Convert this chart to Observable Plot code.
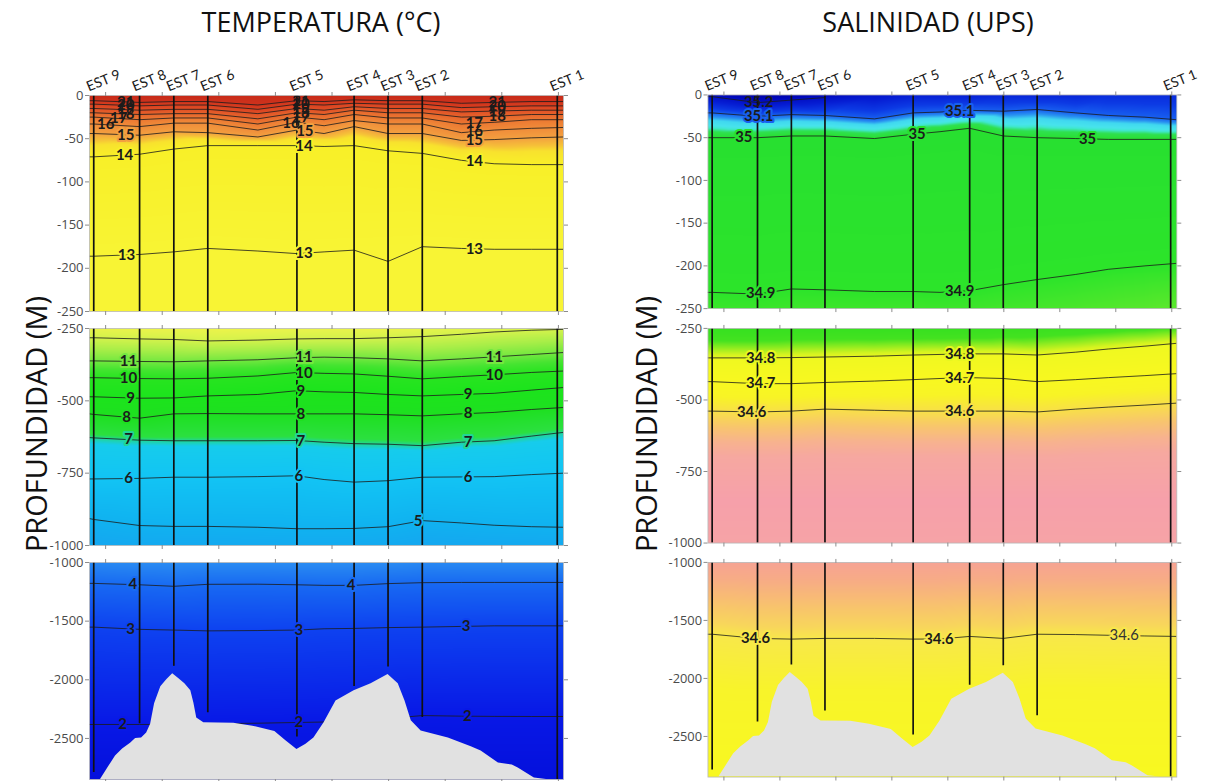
<!DOCTYPE html>
<html>
<head>
<meta charset="utf-8">
<script src="https://cdn.jsdelivr.net/npm/d3@7"></script>
<script src="https://cdn.jsdelivr.net/npm/@observablehq/plot@0.6"></script>
<style>
  html, body { margin: 0; padding: 0; background: #fff; overflow: hidden; }
  #fig { position: relative; width: 1206px; height: 781px; overflow: hidden; font-family: "Open Sans", sans-serif; }
  .panel { position: absolute; }
  .panel svg { overflow: visible; }
  .title { position: absolute; top: 3px; width: 400px; text-align: center; font-size: 27px; color: #111; white-space: nowrap; }
  .ytitle { position: absolute; width: 400px; height: 40px; line-height: 40px; text-align: center; font-size: 29px; color: #111;
            transform: rotate(-90deg); white-space: nowrap; }
</style>
</head>
<body>
<div id="fig"></div>
<script>
// ---- Section geometry: stations along the transect (km) ----
const stationNames = ["EST 9", "EST 8", "EST 7", "EST 6", "EST 5", "EST 4", "EST 3", "EST 2", "EST 1"];
const stationKm    = [-4.2, 12.0, 24.1, 36.1, 67.6, 87.8, 99.8, 111.9, 159.6];
const castDepth    = [-2790, -2375, -1885, -2280, -2487, -2058, -1890, -2322, -2850];

// Columns at which each isoline depth is read (km)
const gridKm = [-5.7, -4.2, 12.0, 24.1, 36.1, 53.8, 67.6, 77.2, 87.8, 99.8, 111.9, 125.7, 137.3, 150.4, 161.8];

// ---- Temperature (°C): isoline depths (m) at each column ----
const tempLevels = [21, 20, 19, 18, 17, 16, 15, 14, 13, 12, 11, 10, 9, 8, 7, 6, 5, 4, 3, 2];
const tempDepths = [
  [-6, -6, -8, -7, -7, -11, -6, -7, -5, -6, -6, -9, -8, -7, -7],
  [-10, -10, -12, -11, -11, -16, -10, -11, -9, -10, -10, -14, -13, -12, -12],
  [-15, -15, -17, -16, -16, -21, -15, -17, -13, -15, -15, -19, -18, -17, -17],
  [-20, -20, -22, -21, -21, -27, -20, -22, -17, -20, -20, -25, -24, -22, -22],
  [-25, -25, -28, -26, -26, -33, -25, -28, -22, -26, -26, -33, -31, -28, -28],
  [-33, -33, -36, -32, -32, -40, -31, -35, -29, -33, -33, -43, -40, -38, -37],
  [-44, -44, -46, -42, -43, -48, -40, -44, -36, -44, -44, -52, -51, -49, -48],
  [-71, -71, -68, -62, -58, -58, -58, -59, -58, -64, -67, -75, -79, -80, -80],
  [-186, -186, -184, -181, -177, -180, -183, -181, -179, -192, -175, -177, -178, -178, -178],
  [-282, -282, -286, -288, -293, -290, -286, -285, -285, -282, -278, -270, -262, -256, -253],
  [-362, -362, -364, -365, -362, -358, -351, -349, -351, -355, -362, -355, -348, -340, -333],
  [-420, -420, -423, -424, -422, -414, -402, -405, -407, -415, -424, -416, -410, -402, -397],
  [-486, -486, -491, -490, -483, -478, -465, -469, -471, -478, -483, -478, -474, -463, -454],
  [-545, -547, -560, -545, -544, -545, -545, -545, -545, -548, -552, -545, -540, -530, -523],
  [-627, -628, -636, -638, -638, -638, -637, -643, -648, -650, -655, -643, -638, -622, -609],
  [-770, -770, -768, -764, -764, -762, -759, -772, -781, -776, -764, -763, -762, -755, -750],
  [-907, -910, -931, -934, -934, -937, -942, -942, -941, -935, -914, -922, -930, -935, -937],
  [-1178, -1178, -1190, -1203, -1186, -1185, -1190, -1195, -1195, -1180, -1172, -1170, -1170, -1170, -1170],
  [-1551, -1551, -1570, -1576, -1583, -1580, -1576, -1565, -1562, -1555, -1551, -1545, -1540, -1540, -1540],
  [-2381, -2381, -2381, -2381, -2375, -2370, -2364, -2360, -2350, -2330, -2305, -2310, -2312, -2313, -2313]
];
const tempSurface = [21.7, 21.7, 21.6, 21.7, 21.7, 21.5, 21.7, 21.6, 21.8, 21.7, 21.7, 21.6, 21.6, 21.6, 21.6];
const tempFloor   = [1.7, 1.7, 1.7, 1.7, 1.7, 1.7, 1.7, 1.7, 1.7, 1.7, 1.7, 1.7, 1.7, 1.7, 1.7];
// label spots: [isoline index, km]
const tempLabelSpots = [
  [0, 7.1], [0, 69.0], [0, 138.4], [1, 7.1], [1, 69.0], [1, 138.4], [2, 7.1], [2, 69.0], [2, 138.4],
  [3, 7.1], [3, 69.0], [3, 138.4], [4, 4.6], [4, 69.0], [4, 130.3], [5, 0.0], [5, 65.5], [5, 130.3],
  [6, 7.1], [6, 70.4], [6, 130.3], [7, 6.7], [7, 70.1], [7, 130.3], [8, 7.4], [8, 70.1], [8, 130.3],
  [10, 8.1], [10, 70.1], [10, 137.3], [11, 8.1], [11, 70.1], [11, 137.3], [12, 8.8], [12, 69.0], [12, 128.1],
  [13, 7.4], [13, 69.0], [13, 128.1], [14, 8.1], [14, 69.0], [14, 128.1], [15, 8.1], [15, 68.3], [15, 128.1],
  [16, 110.4], [17, 9.6], [17, 86.7], [18, 8.8], [18, 68.3], [18, 127.4], [19, 6.0], [19, 68.3], [19, 127.8]
];

// ---- Salinity (UPS): isoline depths (m) at each column ----
const salLevels = [35.2, 35.1, 35, 34.9, 34.8, 34.7, 34.6, 34.6];
const salDepths = [
  [-2, -2, -9, -6, -3, null, null, null, null, null, null, null, null, null, null],
  [-21, -21, -25, -23, -24, -28, -21, -20, -18, -19, -17, -21, -24, -26, -29],
  [-50, -50, -50, -48, -48, -51, -46, -43, -39, -48, -50, -51, -52, -52, -52],
  [-231, -231, -233, -227, -228, -230, -230, -231, -229, -222, -216, -210, -204, -200, -197],
  [-353, -353, -353, -352, -350, -347, -343, -341, -339, -339, -343, -333, -322, -312, -302],
  [-436, -436, -443, -443, -439, -434, -429, -425, -422, -425, -436, -429, -422, -415, -408],
  [-539, -539, -542, -539, -532, -536, -539, -539, -539, -539, -542, -532, -525, -518, -511],
  [-1619, -1619, -1655, -1661, -1655, -1655, -1661, -1660, -1638, -1655, -1619, -1622, -1628, -1634, -1638]
];
const salSurface = [35.24, 35.24, 35.26, 35.25, 35.23, 35.19, 35.17, 35.17, 35.17, 35.16, 35.16, 35.16, 35.15, 35.15, 35.15];
const salCoreDepth = -850;
const salCore  = [34.52, 34.52, 34.52, 34.52, 34.52, 34.52, 34.52, 34.52, 34.52, 34.52, 34.52, 34.52, 34.52, 34.52, 34.52];
const salFloor = [34.68, 34.68, 34.68, 34.68, 34.68, 34.68, 34.68, 34.68, 34.68, 34.68, 34.68, 34.68, 34.68, 34.68, 34.68];
const salLabelSpots = [
  [0, 12.4], [1, 12.4], [1, 84.2], [2, 7.1], [2, 69.0], [2, 129.9], [3, 13.1], [3, 84.2],
  [4, 13.1], [4, 84.2], [5, 13.1], [5, 84.2], [6, 9.9], [6, 84.2], [7, 11.3], [7, 76.8], [7, 143.0]
];

// ---- Sea floor profile ----
const bathyKm = [-1.8, 1.1, 3.5, 6.0, 8.8, 10.6, 12.7, 14.5, 15.9, 17.3, 19.5, 21.6, 23.7, 25.8, 28.0, 30.1, 31.2, 32.2,
  34.7, 45.3, 52.0, 59.8, 63.7, 67.6, 70.8, 73.6, 77.2, 81.4, 87.8, 93.8, 99.8, 103.4, 105.8, 108.0, 111.5, 121.1,
  129.2, 132.7, 138.8, 143.7, 145.8, 151.5, 155.8];
const bathyDepth = [-2850, -2740, -2650, -2590, -2540, -2500, -2496, -2453, -2380, -2205, -2060, -2000, -1949, -1990, -2034,
  -2094, -2200, -2325, -2367, -2370, -2395, -2440, -2520, -2595, -2550, -2496, -2367, -2180, -2094, -2034, -1955, -2034,
  -2180, -2350, -2436, -2496, -2570, -2607, -2709, -2726, -2752, -2838, -2850];

const xDomain = [-5.7, 161.8];
const xTicks = [0, 20, 40, 60, 80, 100, 120, 140, 160];
const floorDepth = -2850;

// ---- Build tables ----
function fieldTable(levels, depths, extra) {
  const rows = [];
  levels.forEach((lv, i) => depths[i].forEach((d, j) => { if (d != null) rows.push({x: gridKm[j], depth: d, value: lv}); }));
  extra.forEach(([depth, values]) => values.forEach((v, j) => rows.push({x: gridKm[j], depth, value: v})));
  return rows;
}
function lineTable(levels, depths) {
  const rows = [];
  levels.forEach((lv, i) => depths[i].forEach((d, j) => rows.push({id: i, x: gridKm[j], depth: d == null ? NaN : d, value: lv})));
  return rows;
}
function depthAt(row, km) {
  const pts = gridKm.map((x, j) => [x, row[j]]).filter(p => p[1] != null);
  return d3.scaleLinear(pts.map(p => p[0]), pts.map(p => p[1]))(km);
}
function labelTable(levels, depths, spots) {
  return spots.map(([i, km], k) => ({
    x: km, depth: depthAt(depths[i], km), value: levels[i], label: String(levels[i]), id: i, k
  }));
}

const tempField = fieldTable(tempLevels, tempDepths, [[0, tempSurface], [floorDepth, tempFloor]]);
const salField  = fieldTable(salLevels, salDepths, [[0, salSurface], [salCoreDepth, salCore], [floorDepth, salFloor]]);
const tempLines = lineTable(tempLevels, tempDepths);
const salLines  = lineTable(salLevels, salDepths);
const tempLabels = labelTable(tempLevels, tempDepths, tempLabelSpots);
const salLabels  = labelTable(salLevels, salDepths, salLabelSpots);
const stations = stationNames.map((name, i) => ({name, x: stationKm[i], cast: castDepth[i]}));
const bathy = bathyKm.map((x, i) => ({x, depth: bathyDepth[i]}));

// ---- Colour ramps for each panel ----
const ramps = {
  tempTop: {domain: [13, 14, 14.5, 14.7, 15, 16, 17, 18, 19, 20, 21, 21.8],
            range: ["#f8f434", "#f8f028", "#f8e22e", "#f6c238", "#f3a040", "#f08c3a", "#ec7832", "#e6642c", "#e05026", "#d94020", "#cf321c", "#c42818"]},
  tempMid: {domain: [4.7, 5, 6, 6.85, 7.15, 8, 9, 10, 10.5, 11, 11.5, 12, 12.4, 13],
            range: ["#14a8f0", "#10b2f0", "#12c4f4", "#16ccec", "#2ce040", "#1ee020", "#1ce41c", "#28e420", "#44e430", "#74e840", "#a8ee48", "#d4f24c", "#eef44a", "#f8f440"]},
  tempBot: {domain: [1.7, 2, 3, 4, 4.75],
            range: ["#0410dc", "#0818e6", "#0e42f0", "#186af2", "#2a8cf2"]},
  salTop:  {domain: [34.85, 34.9, 35, 35.025, 35.04, 35.05, 35.07, 35.085, 35.1, 35.13, 35.17, 35.22, 35.26],
            range: ["#5ce82c", "#2ce42a", "#28e030", "#30e050", "#40e8d0", "#48e4ec", "#40d8f0", "#2890f0", "#1860f0", "#0c3ae4", "#061ed4", "#0008bc", "#0004a8"]},
  salMid:  {domain: [34.52, 34.56, 34.572, 34.585, 34.6, 34.65, 34.7, 34.795, 34.81, 34.83, 34.85, 34.9],
            range: ["#f6a0aa", "#f6a8a0", "#f7b290", "#f8c470", "#f8e048", "#f8f426", "#f8f820", "#f0f820", "#d4f420", "#8cec20", "#44e220", "#30e020"]},
  salBot:  {domain: [34.53, 34.55, 34.57, 34.59, 34.6, 34.63, 34.68],
            range: ["#f6a098", "#f7ac86", "#f8c070", "#f8d65c", "#f8e84a", "#f8f42a", "#f8f820"]}
};

// ---- Layout ----
const columns = [
  {left: 89, field: tempField, lines: tempLines, labels: tempLabels, ramps: ["tempTop", "tempMid", "tempBot"], crowded: l => l.value >= 16},
  {left: 708, field: salField, lines: salLines, labels: salLabels, ramps: ["salTop", "salMid", "salBot"], crowded: l => l.id === 0}
];
const bands = [
  {domain: [-250, 0], ticks: [0, -50, -100, -150, -200, -250], top: 95, h: 216},
  {domain: [-1000, -250], ticks: [-250, -500, -750, -1000], top: 328, h: 217},
  {domain: [floorDepth, -1000], ticks: [-1000, -1500, -2000, -2500], top: 562, h: 217}
];
const PW = 474, ML = 50, MR = 30;
const fig = document.getElementById("fig");
const labelFont = {fontFamily: "Lato", fontSize: 15};

columns.forEach((col, ci) => {
  bands.forEach((band, bi) => {
    const first = bi === 0, last = bi === 2;
    const MT = first ? 50 : 8, MB = 8;
    const ramp = ramps[col.ramps[bi]];
    const inBand = l => l.depth >= band.domain[0] + 4 && l.depth <= band.domain[1] - 2;
    const lightLabel = l => ci === 1 && l.id === 7 && l.k === salLabelSpots.length - 1;
    const here = col.labels.filter(inBand);
    const marks = [
      Plot.raster(col.field, {x: "x", y: "depth", fill: "value", interpolate: "barycentric"}),
      Plot.line(col.lines, {x: "x", y: "depth", z: "id", stroke: "#1c1c1c", strokeWidth: 0.9, strokeOpacity: 0.9, clip: true})
    ];
    if (last) marks.push(Plot.areaY(bathy, {x: "x", y1: () => floorDepth, y2: "depth", fill: "#e1e1e1", clip: true}));
    marks.push(
      Plot.ruleX(stations, {x: "x", y1: "cast", y2: () => 0, stroke: "#111", strokeWidth: 1.7, clip: true}),
      Plot.text(here.filter(l => !col.crowded(l) && !lightLabel(l)), {
        x: "x", y: "depth", text: "label", fill: "#1b1b1b", stroke: "value", strokeWidth: 4, paintOrder: "stroke",
        strokeLinejoin: "round", fontWeight: 700, ...labelFont
      }),
      Plot.text(here.filter(l => col.crowded(l)), {
        x: "x", y: "depth", text: "label", fill: "#1b1b1b", fontWeight: 700, ...labelFont
      }),
      Plot.text(here.filter(lightLabel), {
        x: "x", y: "depth", text: "label", fill: "#333", stroke: "value", strokeWidth: 4, paintOrder: "stroke",
        fontWeight: 400, ...labelFont
      }),
      Plot.frame({stroke: "#b8b8b8", strokeWidth: 0.8}),
      Plot.axisY({ticks: band.ticks, tickFormat: d => String(d), tickSize: 4, tickPadding: 2, label: null,
                  stroke: "#8c8c8c", fill: "#4a4a4a", fontSize: 13}),
      Plot.axisY({anchor: "right", ticks: band.ticks, tickFormat: () => "", tickSize: 4, label: null, stroke: "#8c8c8c"}),
      Plot.axisX({anchor: "top", ticks: xTicks, tickFormat: () => "", tickSize: 4, label: null, stroke: "#8c8c8c"}),
      Plot.axisX({anchor: "bottom", ticks: xTicks, tickFormat: () => "", tickSize: 4, label: null, stroke: "#8c8c8c"})
    );
    if (first) marks.push(Plot.text(stations, {
      x: "x", text: "name", frameAnchor: "top", dx: -5, dy: -4, rotate: -22, textAnchor: "start", lineAnchor: "bottom",
      fontFamily: "Lato", fontSize: 14, fill: "#1a1a1a"
    }));
    const chart = Plot.plot({
      width: ML + PW + MR,
      height: MT + band.h + MB,
      marginLeft: ML, marginRight: MR, marginTop: MT, marginBottom: MB,
      style: {fontFamily: "Open Sans, sans-serif", fontSize: "13px", background: "transparent", overflow: "visible"},
      x: {domain: xDomain},
      y: {domain: band.domain},
      color: {type: "linear", domain: ramp.domain, range: ramp.range, interpolate: "rgb", clamp: true},
      marks
    });
    const holder = document.createElement("div");
    holder.className = "panel";
    holder.style.left = (col.left - ML) + "px";
    holder.style.top = (band.top - MT) + "px";
    holder.appendChild(chart);
    fig.appendChild(holder);
  });
});

// ---- Titles ----
[["TEMPERATURA (°C)", 321], ["SALINIDAD (UPS)", 928]].forEach(([t, cx]) => {
  const d = document.createElement("div");
  d.className = "title";
  d.textContent = t;
  d.style.left = (cx - 200) + "px";
  fig.appendChild(d);
});
[36, 646].forEach(cx => {
  const d = document.createElement("div");
  d.className = "ytitle";
  d.textContent = "PROFUNDIDAD (M)";
  d.style.left = (cx - 200) + "px";
  d.style.top = (424 - 20) + "px";
  fig.appendChild(d);
});
</script>
</body>
</html>
